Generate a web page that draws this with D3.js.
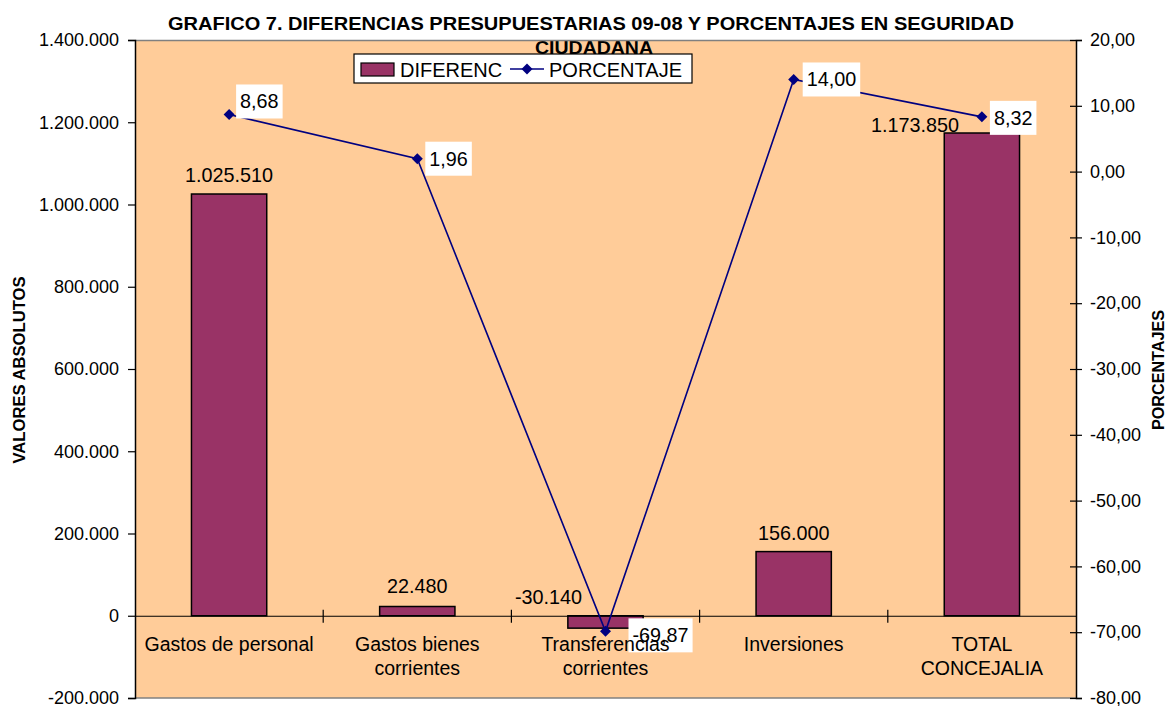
<!DOCTYPE html>
<html>
<head>
<meta charset="utf-8">
<script src="https://cdn.jsdelivr.net/npm/d3@7/dist/d3.min.js"></script>
<style>
  html, body { margin: 0; padding: 0; background: #ffffff; }
  svg text { font-family: Arial, "Liberation Sans", sans-serif; fill: #000; }
</style>
</head>
<body>
<svg id="chart" width="1167" height="706"></svg>
<script>
// ---------------- DATA ----------------
const categories = ["Gastos de personal", "Gastos bienes corrientes", "Transferencias corrientes", "Inversiones", "TOTAL CONCEJALIA"];
const categoryLines = [["Gastos de personal"], ["Gastos bienes", "corrientes"], ["Transferencias", "corrientes"], ["Inversiones"], ["TOTAL", "CONCEJALIA"]];
const diferenc = [1025510, 22480, -30140, 156000, 1173850];
const porcentaje = [8.68, 1.96, -69.87, 14.00, 8.32];
const leftTicks = [-200000, 0, 200000, 400000, 600000, 800000, 1000000, 1200000, 1400000];
const rightTicks = [-80, -70, -60, -50, -40, -30, -20, -10, 0, 10, 20];
const titleLine1 = "GRAFICO 7. DIFERENCIAS PRESUPUESTARIAS 09-08 Y PORCENTAJES EN SEGURIDAD";
const titleLine2 = "CIUDADANA";
const seriesNames = ["DIFERENC", "PORCENTAJE"];
const leftTitle = "VALORES ABSOLUTOS";
const rightTitle = "PORCENTAJES";

// ---------------- LAYOUT (not data) ----------------
const plot = { left: 135, right: 1076, top: 40, bottom: 698 };
const barLabelOffsets = [[0, -12], [0, -14], [-57, -12], [0, -12], [-67, -1]];
const lineLabelOffsets = [[7, -30], [8, -17], [23, -13], [9, -17], [8, -16]];
const barColor = "#993366";
const lineColor = "#000080";
const plotBg = "#FFCC99";

const locale = d3.formatLocale({ decimal: ",", thousands: ".", grouping: [3], currency: ["", ""], minus: "-" });
const fmtInt = locale.format(",.0f");
const fmtPct = locale.format(",.2f");

const svg = d3.select("#chart");

const x = d3.scaleBand().domain(categories).range([plot.left, plot.right]).paddingInner(0.6).paddingOuter(0.3);
const yL = d3.scaleLinear().domain([-200000, 1400000]).range([plot.bottom, plot.top]);
const yR = d3.scaleLinear().domain([-80, 20]).range([plot.bottom, plot.top]);
const step = x.step();
const cx = (c) => x(c) + x.bandwidth() / 2;

// Plot background
svg.append("rect")
  .attr("x", plot.left).attr("y", plot.top)
  .attr("width", plot.right - plot.left).attr("height", plot.bottom - plot.top)
  .attr("fill", plotBg);

// Title
svg.append("text")
  .attr("x", 591).attr("y", 30)
  .attr("text-anchor", "middle")
  .attr("font-size", 18).attr("font-weight", "bold")
  .attr("textLength", 846).attr("lengthAdjust", "spacingAndGlyphs")
  .text(titleLine1);
svg.append("text")
  .attr("x", 594).attr("y", 54)
  .attr("text-anchor", "middle")
  .attr("font-size", 18).attr("font-weight", "bold")
  .attr("textLength", 118).attr("lengthAdjust", "spacingAndGlyphs")
  .text(titleLine2);

// Plot frame top / bottom (gray)
svg.append("line").attr("x1", plot.left).attr("x2", plot.right).attr("y1", plot.top + 0.5).attr("y2", plot.top + 0.5)
  .attr("stroke", "#808080").attr("stroke-width", 1.5);
svg.append("line").attr("x1", plot.left).attr("x2", plot.right).attr("y1", plot.bottom).attr("y2", plot.bottom)
  .attr("stroke", "#808080").attr("stroke-width", 1.5);

// Left axis
const gL = svg.append("g").attr("transform", `translate(${plot.left},0)`)
  .call(d3.axisLeft(yL).tickValues(leftTicks).tickSize(7).tickPadding(9).tickFormat(fmtInt));
gL.select(".domain").attr("stroke", "#000").attr("stroke-width", 1.5);
gL.selectAll(".tick line").attr("stroke", "#000").attr("stroke-width", 1.2);
gL.selectAll(".tick text").attr("font-size", 18).attr("font-family", "Arial, 'Liberation Sans', sans-serif");

// Right axis
const gR = svg.append("g").attr("transform", `translate(${plot.right},0)`)
  .call(d3.axisRight(yR).tickValues(rightTicks).tickSize(6).tickPadding(8).tickFormat(fmtPct));
gR.select(".domain").attr("stroke", "#000").attr("stroke-width", 1.5);
gR.selectAll(".tick line").attr("stroke", "#000").attr("stroke-width", 1.2).attr("x1", -6);
gR.selectAll(".tick text").attr("font-size", 18).attr("font-family", "Arial, 'Liberation Sans', sans-serif");

// Axis titles
svg.append("text")
  .attr("transform", `translate(25,370) rotate(-90)`)
  .attr("text-anchor", "middle")
  .attr("font-size", 17).attr("font-weight", "bold")
  .attr("textLength", 187).attr("lengthAdjust", "spacingAndGlyphs")
  .text(leftTitle);
svg.append("text")
  .attr("transform", `translate(1164,370) rotate(-90)`)
  .attr("text-anchor", "middle")
  .attr("font-size", 17).attr("font-weight", "bold")
  .attr("textLength", 120).attr("lengthAdjust", "spacingAndGlyphs")
  .text(rightTitle);

// Bars
svg.append("g").selectAll("rect")
  .data(categories)
  .join("rect")
  .attr("x", (c) => x(c))
  .attr("width", x.bandwidth())
  .attr("y", (c, i) => Math.min(yL(diferenc[i]), yL(0)))
  .attr("height", (c, i) => Math.abs(yL(diferenc[i]) - yL(0)))
  .attr("fill", barColor)
  .attr("stroke", "#000")
  .attr("stroke-width", 1.5);

// Category axis (zero line)
const y0 = yL(0);
const gX = svg.append("g").attr("transform", `translate(0,${y0})`)
  .call(d3.axisBottom(x).tickSize(0).tickFormat(""));
gX.select(".domain").attr("stroke", "#000").attr("stroke-width", 1.2);
// boundary ticks
svg.append("g").selectAll("line")
  .data(d3.range(1, categories.length))
  .join("line")
  .attr("x1", (k) => plot.left + k * step).attr("x2", (k) => plot.left + k * step)
  .attr("y1", y0 - 6).attr("y2", y0 + 7)
  .attr("stroke", "#000").attr("stroke-width", 1.2);

// Bar labels
svg.append("g").selectAll("text")
  .data(categories)
  .join("text")
  .attr("x", (c, i) => cx(c) + barLabelOffsets[i][0])
  .attr("y", (c, i) => Math.min(yL(diferenc[i]), yL(0)) + barLabelOffsets[i][1])
  .attr("text-anchor", "middle")
  .attr("font-size", 19.8)
  .text((c, i) => fmtInt(diferenc[i]));

// Line
const line = d3.line().x((d, i) => cx(categories[i])).y((d) => yR(d));
svg.append("path")
  .datum(porcentaje)
  .attr("d", line)
  .attr("fill", "none")
  .attr("stroke", lineColor)
  .attr("stroke-width", 1.6);

const diamond = "M0,-5.5L5.5,0L0,5.5L-5.5,0Z";
svg.append("g").selectAll("path")
  .data(porcentaje)
  .join("path")
  .attr("transform", (d, i) => `translate(${cx(categories[i])},${yR(d)})`)
  .attr("d", diamond)
  .attr("fill", lineColor);

// Line labels with white boxes
const lblG = svg.append("g");
porcentaje.forEach((v, i) => {
  const px = cx(categories[i]);
  const py = yR(v);
  const bx = px + lineLabelOffsets[i][0];
  const by = py + lineLabelOffsets[i][1];
  const g = lblG.append("g");
  const rect = g.append("rect").attr("fill", "#fff");
  const t = g.append("text")
    .attr("x", bx + 4).attr("y", by + 24)
    .attr("font-size", 19.8)
    .text(fmtPct(v));
  const w = t.node().getComputedTextLength();
  rect.attr("x", bx).attr("y", by).attr("width", w + 8).attr("height", 34);
});

// Category labels (drawn on top, as in the reference)
const catG = svg.append("g");
categories.forEach((c, i) => {
  const t = catG.append("text")
    .attr("x", cx(c)).attr("y", y0 + 35)
    .attr("text-anchor", "middle")
    .attr("font-size", 19.5);
  categoryLines[i].forEach((ln, j) => {
    t.append("tspan").attr("x", cx(c)).attr("dy", j === 0 ? 0 : 24).text(ln);
  });
});

// Legend
const lg = svg.append("g");
lg.append("rect").attr("x", 354).attr("y", 54).attr("width", 338).attr("height", 29)
  .attr("fill", "#fff").attr("stroke", "#000").attr("stroke-width", 1.2);
lg.append("rect").attr("x", 361).attr("y", 63).attr("width", 33).attr("height", 13)
  .attr("fill", barColor).attr("stroke", "#000").attr("stroke-width", 1.2);
lg.append("text").attr("x", 400).attr("y", 77).attr("font-size", 20).text(seriesNames[0]);
lg.append("line").attr("x1", 510).attr("x2", 544).attr("y1", 69).attr("y2", 69)
  .attr("stroke", lineColor).attr("stroke-width", 1.6);
lg.append("path").attr("transform", "translate(527,69)").attr("d", diamond).attr("fill", lineColor);
lg.append("text").attr("x", 549).attr("y", 77).attr("font-size", 20).text(seriesNames[1]);
</script>
</body>
</html>
